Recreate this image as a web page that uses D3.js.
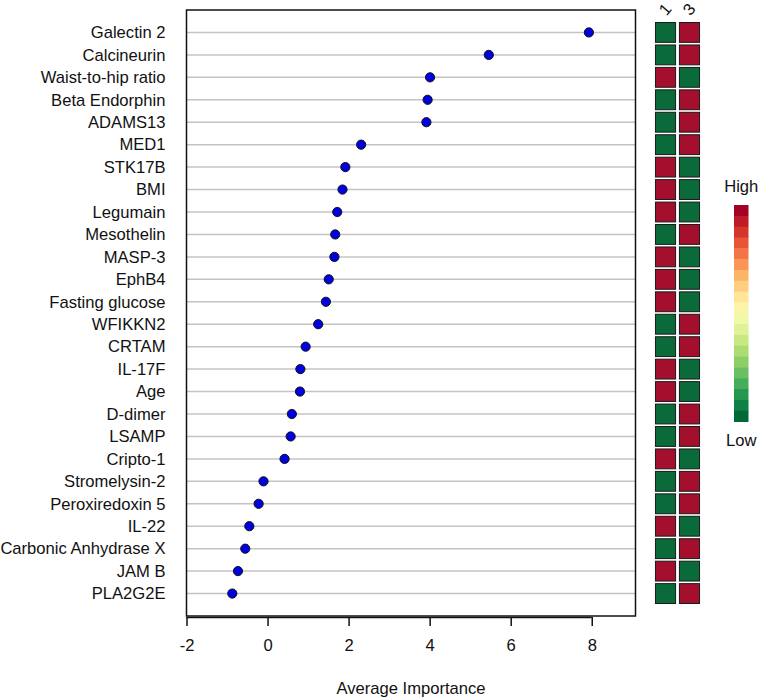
<!DOCTYPE html>
<html><head><meta charset="utf-8">
<script src="https://cdn.jsdelivr.net/npm/d3@7"></script>
<style>body{margin:0;background:#fff}svg{display:block}text{font-family:"Liberation Sans",Arial,sans-serif}</style>
</head><body>
<svg id="c" width="760" height="699"></svg>
<script>
const features = ["Galectin 2","Calcineurin","Waist-to-hip ratio","Beta Endorphin","ADAMS13","MED1","STK17B","BMI","Legumain","Mesothelin","MASP-3","EphB4","Fasting glucose","WFIKKN2","CRTAM","IL-17F","Age","D-dimer","LSAMP","Cripto-1","Stromelysin-2","Peroxiredoxin 5","IL-22","Carbonic Anhydrase X","JAM B","PLA2G2E"];
const importance = [7.93,5.46,4.01,3.95,3.92,2.31,1.92,1.85,1.72,1.67,1.65,1.51,1.44,1.25,0.94,0.81,0.80,0.60,0.57,0.42,-0.10,-0.22,-0.45,-0.55,-0.73,-0.87];
const heatCols = ["1","3"];
// 1 = High (red), 0 = Low (green)
const col1 = [0,0,1,0,0,0,1,1,1,0,1,1,1,0,0,1,1,0,0,1,0,0,1,0,1,0];
const col3 = [1,1,0,1,1,1,0,0,0,1,0,0,0,1,1,0,0,1,1,0,1,1,0,1,0,1];
const xTicks = [-2,0,2,4,6,8];
const legendLabels = ["High","Low"];
const xTitle = "Average Importance";

const FS = 16.6;
const svg = d3.select("#c");
const L = 186.5, R = 635.5, T = 10, B = 616;
const x = d3.scaleLinear().domain([-2, 9.08]).range([L, R]);
const y = d3.scalePoint().domain(features).range([T, B]).padding(1);

// gridlines
svg.append("g").selectAll("line").data(features).join("line")
  .attr("x1", L).attr("x2", R).attr("y1", d => y(d)).attr("y2", d => y(d))
  .attr("stroke", "#c4c4c4").attr("stroke-width", 1.5);

// box
svg.append("rect").attr("x", L).attr("y", T).attr("width", R - L).attr("height", B - T)
  .attr("fill", "none").attr("stroke", "#111").attr("stroke-width", 1.5);

// labels
svg.append("g").selectAll("text").data(features).join("text")
  .attr("x", 165.5).attr("y", d => y(d) + 5.8).attr("text-anchor", "end")
  .attr("font-size", FS).attr("fill", "#111").text(d => d);

// points
svg.append("g").selectAll("circle").data(features).join("circle")
  .attr("cx", (d, i) => x(importance[i])).attr("cy", d => y(d)).attr("r", 4.6)
  .attr("fill", "#0000e0").attr("stroke", "#111").attr("stroke-width", 1);

// x axis
const ax = svg.append("g").attr("transform", `translate(0,${B + 1})`)
  .call(d3.axisBottom(x).tickValues(xTicks).tickSize(9).tickPadding(13).tickFormat(d3.format("d")));
ax.select(".domain").attr("d", `M${x(-2)},0.5H${x(8)}`).attr("stroke", "#111").attr("stroke-width", 1.5);
ax.selectAll(".tick line").attr("stroke", "#111").attr("stroke-width", 1.5);
ax.selectAll(".tick text").attr("font-size", FS).attr("fill", "#111")
  .attr("font-family", "\"Liberation Sans\",Arial,sans-serif").text(d => d < 0 ? "-" + Math.abs(d) : d);

svg.append("text").attr("x", 411).attr("y", 694).attr("text-anchor", "middle")
  .attr("font-size", FS).attr("fill", "#111").text(xTitle);

// heatmap
const hx = d3.scaleBand().domain(heatCols).range([654.5, 700.5]).paddingInner(0.16).paddingOuter(0.04);
const colorHL = d3.scaleOrdinal().domain([0, 1]).range(["#0b6a3a", "#a50f2e"]);
const heatData = [];
features.forEach((f, i) => {
  heatData.push({ f, c: "1", v: col1[i] });
  heatData.push({ f, c: "3", v: col3[i] });
});
const ch = y.step() - 2.6;
svg.append("g").selectAll("rect").data(heatData).join("rect")
  .attr("x", d => hx(d.c)).attr("y", d => y(d.f) - ch / 2)
  .attr("width", hx.bandwidth()).attr("height", ch)
  .attr("fill", d => colorHL(d.v)).attr("stroke", "#1a1a1a").attr("stroke-width", 1);

svg.append("g").selectAll("text").data(heatCols).join("text")
  .attr("transform", d => `translate(${hx(d) + hx.bandwidth() / 2 + 4},${13}) rotate(-50)`)
  .attr("text-anchor", "middle").attr("font-size", FS).attr("fill", "#111").text(d => d);

// legend
const nSteps = 20;
const steps = d3.range(nSteps);
const lgTop = 205, lgBot = 421.5, lgX = 734, lgW = 14.5;
const ly = d3.scaleBand().domain(steps).range([lgTop, lgBot]);
svg.append("g").selectAll("rect").data(steps).join("rect")
  .attr("x", lgX).attr("y", d => ly(d)).attr("width", lgW).attr("height", ly.bandwidth() + 0.5)
  .attr("fill", d => d3.interpolateRdYlGn(d / (nSteps - 1)));
svg.append("text").attr("x", lgX + lgW / 2).attr("y", 192).attr("text-anchor", "middle")
  .attr("font-size", FS).attr("fill", "#111").text(legendLabels[0]);
svg.append("text").attr("x", lgX + lgW / 2).attr("y", 446).attr("text-anchor", "middle")
  .attr("font-size", FS).attr("fill", "#111").text(legendLabels[1]);
</script>
</body></html>
